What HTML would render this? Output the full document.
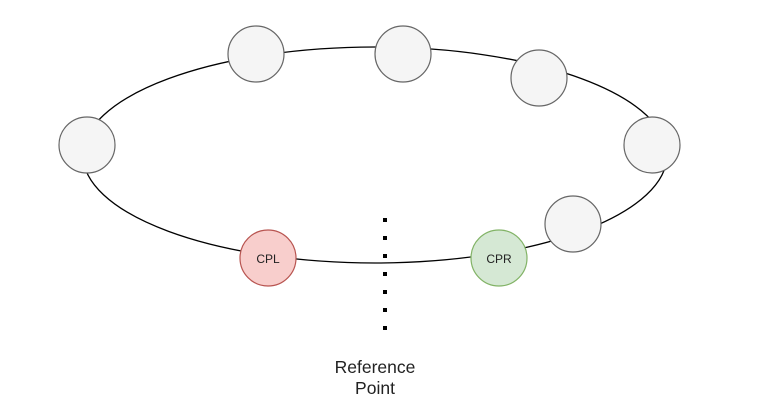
<!DOCTYPE html>
<html><head><meta charset="utf-8"><style>
html,body{margin:0;padding:0;background:#fff;}
svg{display:block;}
</style></head><body>
<svg width="783" height="407" viewBox="0 0 783 407" xmlns="http://www.w3.org/2000/svg">
<ellipse cx="375" cy="155" rx="292" ry="108" fill="none" stroke="#000" stroke-width="1.3"/>
<g fill="#f5f5f5" stroke="#666" stroke-width="1.2">
<circle cx="256" cy="54" r="28"/>
<circle cx="403" cy="54" r="28"/>
<circle cx="539" cy="78" r="28"/>
<circle cx="652" cy="145" r="28"/>
<circle cx="87" cy="145" r="28"/>
<circle cx="573" cy="224" r="28"/>
</g>
<circle cx="268" cy="258" r="28" fill="#f8cecc" stroke="#b85450" stroke-width="1.2"/>
<circle cx="499" cy="258" r="28" fill="#d5e8d4" stroke="#82b366" stroke-width="1.2"/>
<g font-family="Liberation Sans, sans-serif" font-size="12" fill="#222" text-anchor="middle">
<text x="268" y="263">CPL</text>
<text x="499" y="263">CPR</text>
</g>
<g fill="#000">
<rect x="383" y="218" width="4" height="4"/>
<rect x="383" y="236" width="4" height="4"/>
<rect x="383" y="254" width="4" height="4"/>
<rect x="383" y="272" width="4" height="4"/>
<rect x="383" y="290" width="4" height="4"/>
<rect x="383" y="308" width="4" height="4"/>
<rect x="383" y="326" width="4" height="4"/>
</g>
<g font-family="Liberation Sans, sans-serif" font-size="17.5" fill="#222" text-anchor="middle">
<text x="375" y="373">Reference</text>
<text x="375" y="394">Point</text>
</g>
</svg>
</body></html>
